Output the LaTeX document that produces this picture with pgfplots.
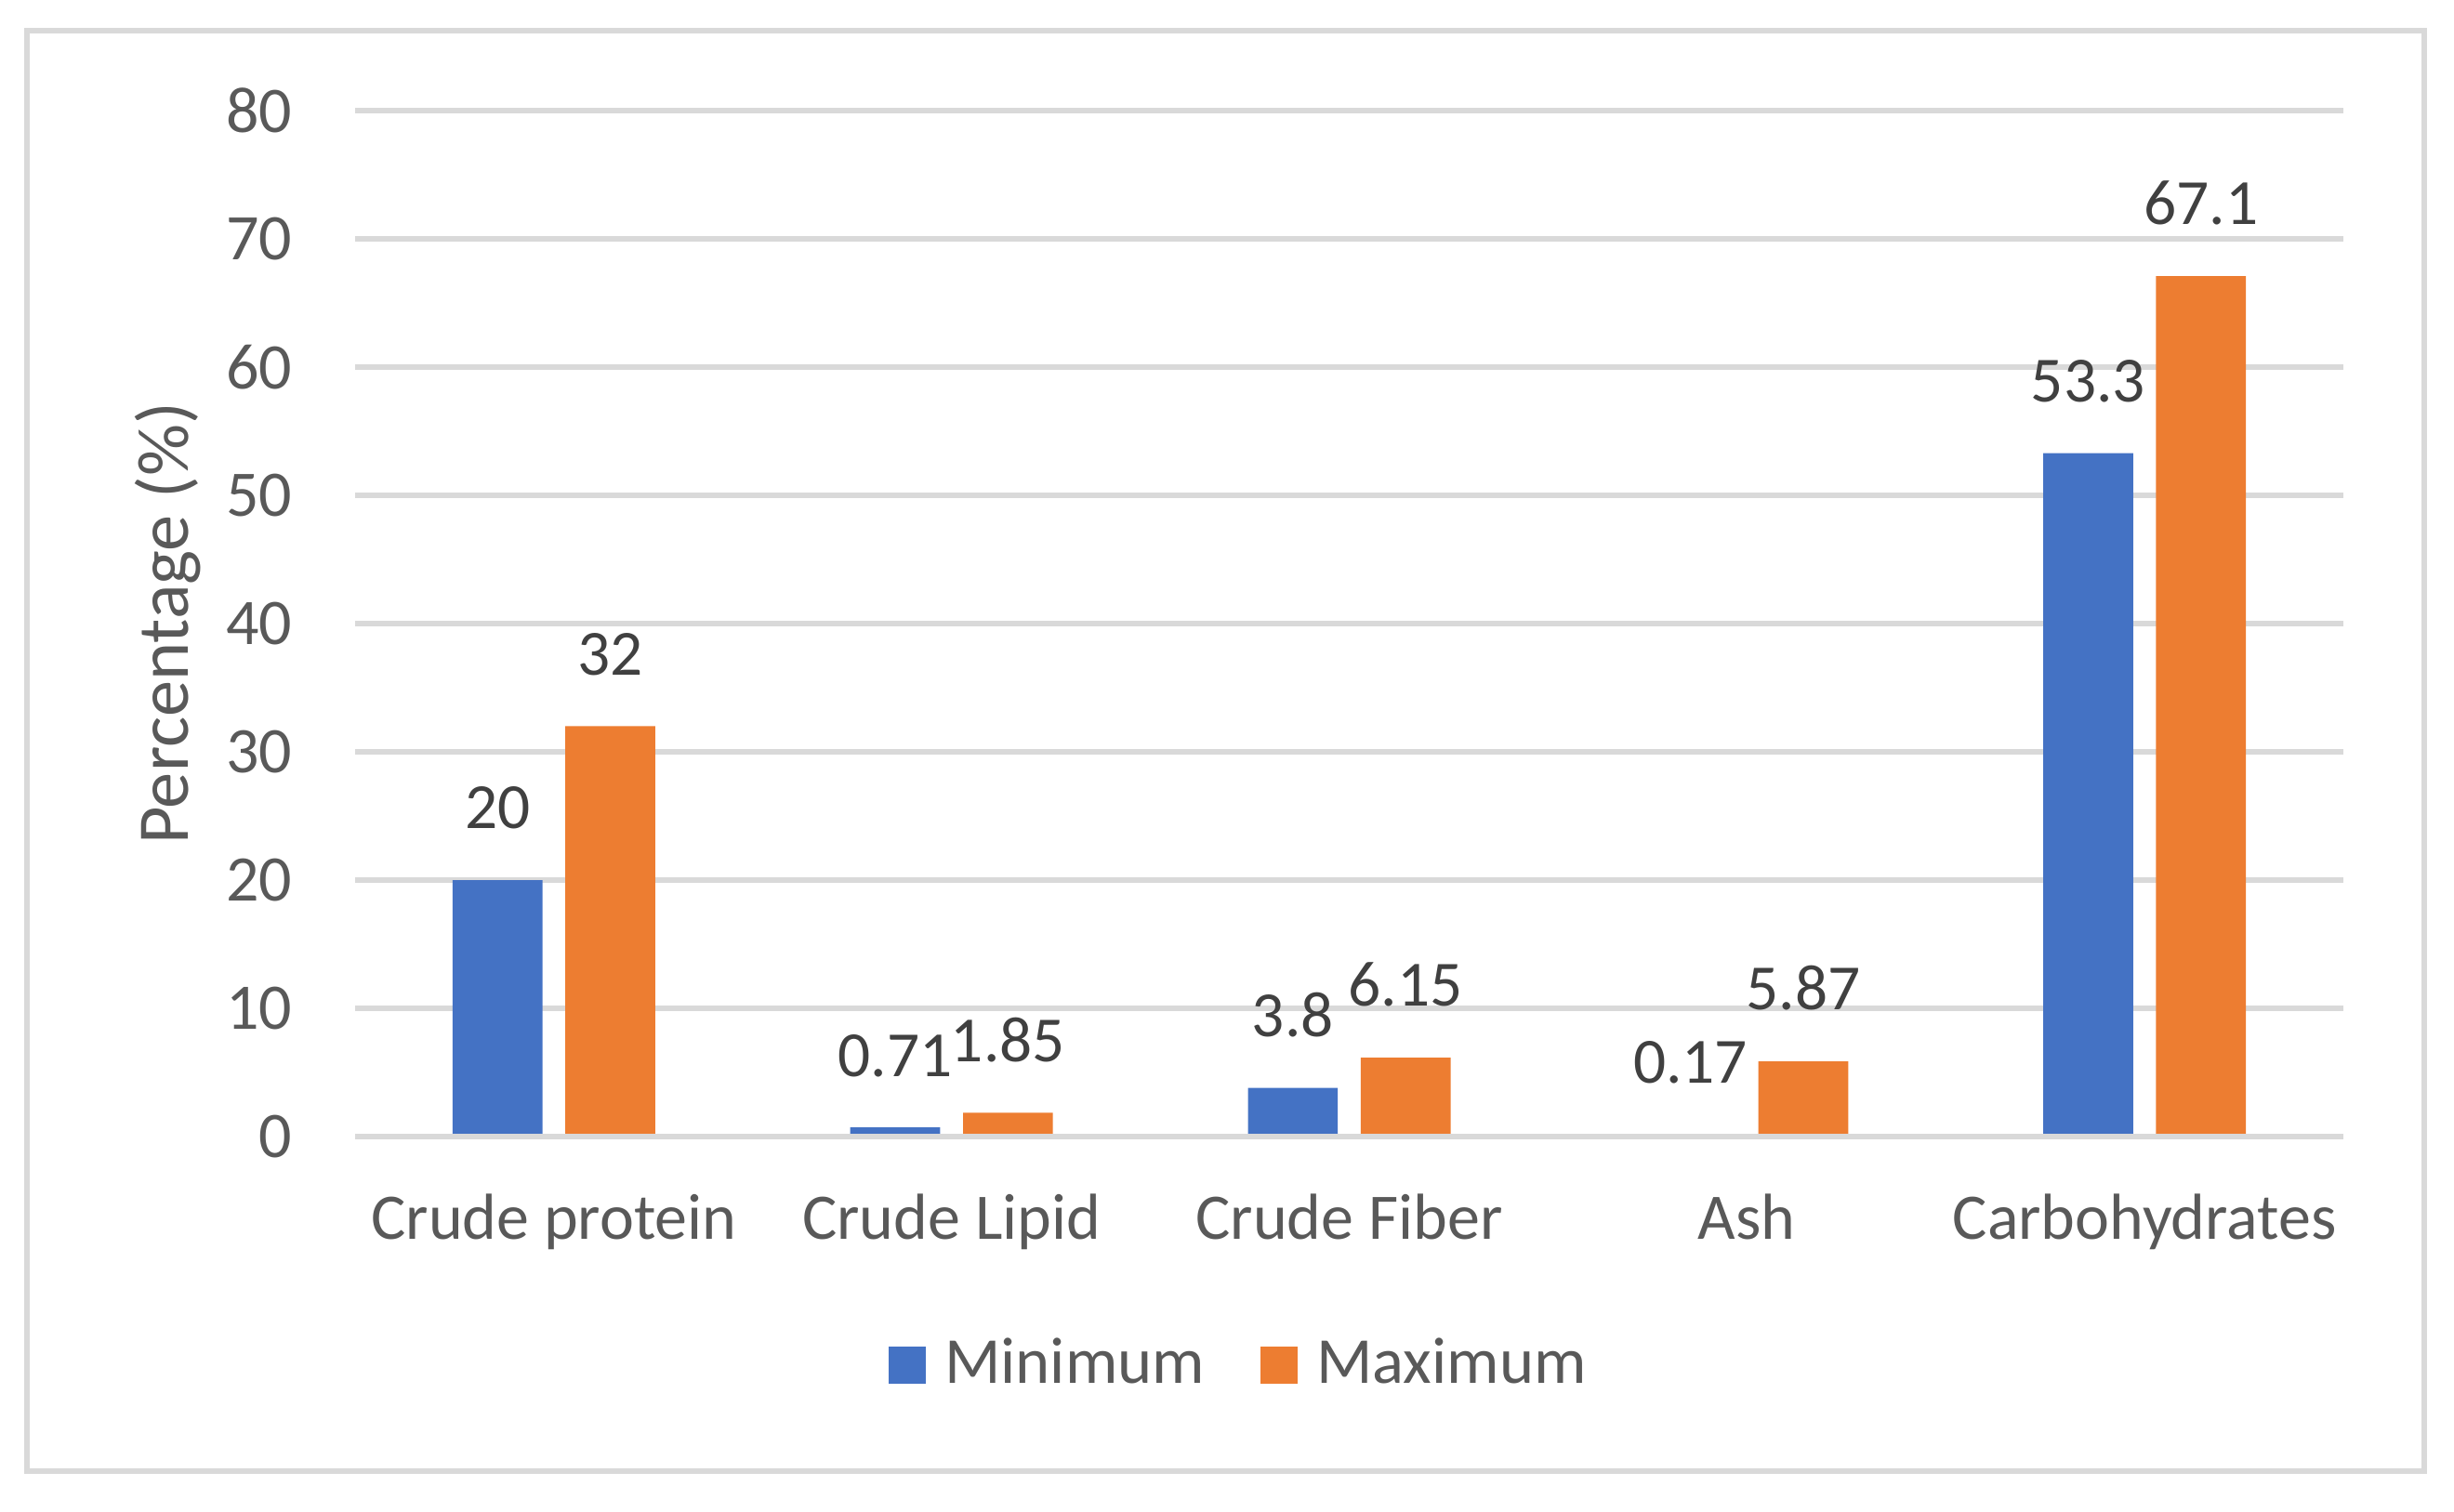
\documentclass[border=0pt]{standalone}
\usepackage{fontspec}
\setmainfont{Carlito}
\usepackage{pgfplots}
\pgfplotsset{compat=1.18}
\definecolor{minblue}{HTML}{4472C4}
\definecolor{maxorange}{HTML}{ED7D31}
\definecolor{gridgray}{HTML}{D9D9D9}
\definecolor{labelgray}{HTML}{595959}
\definecolor{datagray}{HTML}{404040}

\begin{document}
\begin{tikzpicture}
\useasboundingbox (-57.3pt,-60.45pt) rectangle (338.7pt,183.45pt);
\draw[gridgray, line width=0.8pt] (-52.95pt,-54pt) rectangle (333.9pt,178.5pt);
\begin{axis}[
    at={(0,0)}, anchor=south west,
    scale only axis,
    width=320.85pt, height=165.6pt,
    ybar=3.7pt, bar width=14.5pt,
    xmin=-0.5, xmax=4.5, ymin=0, ymax=80,
    xtick={0,1,2,3,4},
    xticklabels={Crude protein, Crude Lipid, Crude Fiber, Ash, Carbohydrates},
    ytick={0,10,...,80},
    axis line style={draw=none},
    major tick length=0pt,
    ymajorgrids,
    major grid style={gridgray, line width=1pt},
    /pgf/number format/assume math mode=true,
    tick label style={font=\fontsize{10.5}{12}\selectfont, text=labelgray},
    yticklabel style={anchor=east, inner sep=0pt, xshift=-10pt},
    xticklabel style={anchor=base, inner sep=0pt, yshift=-16.5pt},
    nodes near coords,
    every node near coord/.append style={font=\fontsize{10.4}{12}\selectfont, text=datagray, inner sep=0pt, yshift=8pt},
    ylabel={Percentage (\%)},
    ylabel style={font=\fontsize{11.75}{14}\selectfont, text=labelgray, at={(axis description cs:-0.094,0.5)}, anchor=center},
    legend columns=2,
    legend image code/.code={\fill[#1] (0pt,-3pt) rectangle (6pt,3pt);},
    legend style={draw=none, fill=none, at={(axis description cs:0.447,-0.2228)}, anchor=center,
        font=\fontsize{10.6}{12}\selectfont, text=labelgray,
        /tikz/every odd column/.append style={column sep=1pt},
        /tikz/every even column/.append style={column sep=7pt}},
]
\addplot[fill=minblue, draw=none] coordinates {(0,20) (1,0.71) (2,3.8) (3,0.17) (4,53.3)};
\addlegendentry{Minimum}
\addplot[fill=maxorange, draw=none] coordinates {(0,32) (1,1.85) (2,6.15) (3,5.87) (4,67.1)};
\addlegendentry{Maximum}
% baseline drawn over the bars, as in the original
\draw[gridgray, line width=1pt] (axis cs:-0.5,0) -- (axis cs:4.5,0);
\end{axis}
\end{tikzpicture}
\end{document}
